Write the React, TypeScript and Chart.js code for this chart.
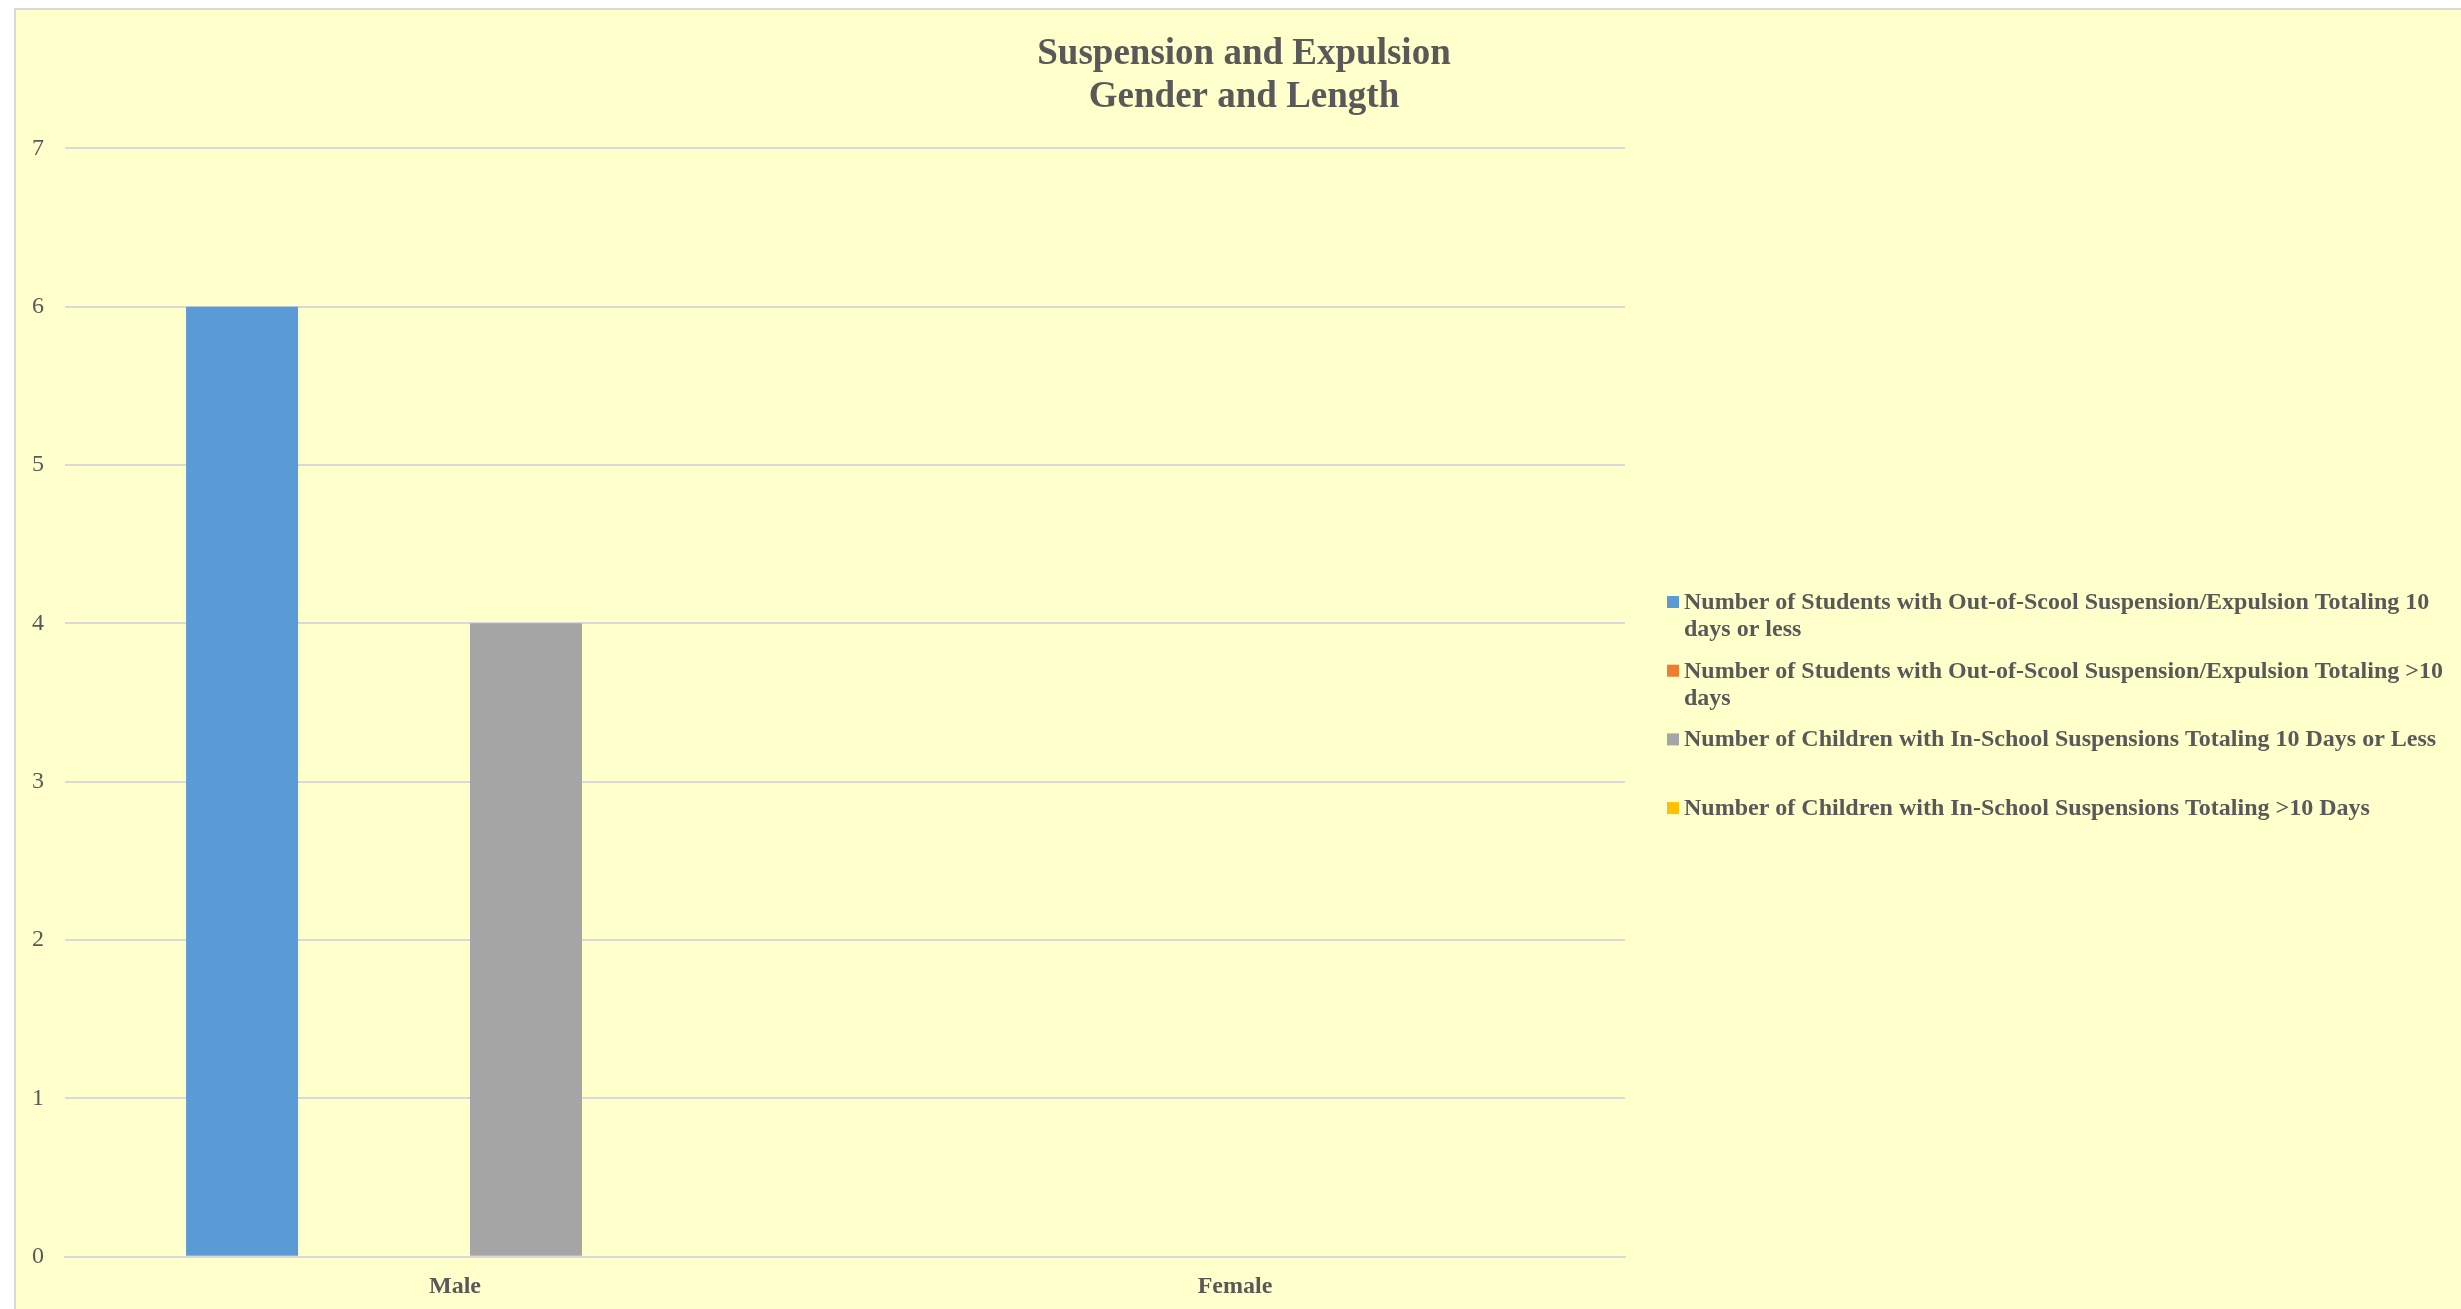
import React, { useEffect, useRef } from "react";
import { Chart, registerables } from "chart.js";

Chart.register(...registerables);

// ---- data ----
const categories = ["Male", "Female"];
const seriesNames = [
  "Number of Students with Out-of-Scool Suspension/Expulsion Totaling 10 days or less",
  "Number of Students with Out-of-Scool Suspension/Expulsion Totaling >10 days",
  "Number of Children with In-School Suspensions Totaling 10 Days or Less",
  "Number of Children with In-School Suspensions Totaling >10 Days",
];
const outOfSchool10OrLess = [6, 0];
const outOfSchoolOver10 = [0, 0];
const inSchool10OrLess = [4, 0];
const inSchoolOver10 = [0, 0];
const seriesColors = ["#5B9BD5", "#ED7D31", "#A5A5A5", "#FFC000"];
const titleLines = ["Suspension and Expulsion", "Gender and Length"];
const yMin = 0;
const yMax = 7;
const yStep = 1;

// ---- style ----
const FONT = "'Liberation Serif', 'Times New Roman', serif";
const TEXT = "#595959";
const GRID = "#D9D9D9";
const BG = "#FFFFCC";
const CW = 2445;
const CH = 1299;

const TITLE_X = 1228;
const TITLE_Y0 = 44.5;
const TITLE_LINE = 43;

const LEGEND_X = 1651;
const LEGEND_BASE0 = 599;
const LEGEND_STEP = 68.7;
const LEGEND_LINE = 27;
const LEGEND_MAX_W = 775;

function wrapText(ctx: CanvasRenderingContext2D, text: string, maxW: number): string[] {
  const words = text.split(" ");
  const lines: string[] = [];
  let cur = "";
  for (const w of words) {
    const test = cur ? cur + " " + w : w;
    if (ctx.measureText(test).width > maxW && cur) {
      lines.push(cur);
      cur = w;
    } else {
      cur = test;
    }
  }
  if (cur) lines.push(cur);
  return lines;
}

const titleAndLegend = {
  id: "titleAndLegend",
  afterDraw(chart: any) {
    const ctx: CanvasRenderingContext2D = chart.ctx;
    ctx.save();
    // title
    ctx.font = `bold 37px ${FONT}`;
    ctx.fillStyle = TEXT;
    ctx.textAlign = "center";
    ctx.textBaseline = "middle";
    titleLines.forEach((t, i) => ctx.fillText(t, TITLE_X, TITLE_Y0 + i * TITLE_LINE));
    // legend
    ctx.font = `bold 24px ${FONT}`;
    ctx.textBaseline = "alphabetic";
    ctx.textAlign = "left";
    chart.data.datasets.forEach((ds: any, i: number) => {
      const base = LEGEND_BASE0 + i * LEGEND_STEP;
      ctx.fillStyle = ds.backgroundColor;
      ctx.fillRect(LEGEND_X, base - 13, 12, 12);
      ctx.fillStyle = TEXT;
      const lines = wrapText(ctx, ds.label, LEGEND_MAX_W);
      lines.forEach((ln, j) => ctx.fillText(ln, LEGEND_X + 17, base + j * LEGEND_LINE));
    });
    ctx.restore();
  },
};

export default function App() {
  const ref = useRef<HTMLCanvasElement | null>(null);

  useEffect(() => {
    if (!ref.current) return;
    const seriesValues = [outOfSchool10OrLess, outOfSchoolOver10, inSchool10OrLess, inSchoolOver10];
    const chart = new Chart(ref.current, {
      type: "bar",
      data: {
        labels: categories,
        datasets: seriesNames.map((name, i) => ({
          label: name,
          data: seriesValues[i],
          backgroundColor: seriesColors[i],
          borderWidth: 0,
          categoryPercentage: 0.728,
          barPercentage: 0.789,
        })),
      },
      options: {
        responsive: false,
        animation: false,
        layout: { padding: { left: 0, right: 836, top: 138.3, bottom: 0 } },
        plugins: {
          legend: { display: false },
          tooltip: { enabled: false },
          title: { display: false },
        },
        scales: {
          x: {
            grid: { display: false, drawTicks: false },
            border: { display: true, color: GRID, width: 2 },
            ticks: {
              color: TEXT,
              font: { family: FONT, size: 24, weight: "bold" },
              padding: 15.5,
            },
            afterFit: (scale: any) => {
              scale.height = 52.3;
            },
          },
          y: {
            min: yMin,
            max: yMax,
            grid: { color: GRID, lineWidth: 2, drawTicks: false },
            border: { display: false },
            ticks: {
              stepSize: yStep,
              color: TEXT,
              font: { family: FONT, size: 24 },
              padding: 21,
            },
            afterFit: (scale: any) => {
              scale.width = 49;
            },
          },
        },
      },
      plugins: [titleAndLegend],
    });
    return () => chart.destroy();
  }, []);

  return (
    <div
      style={{
        position: "absolute",
        left: 14,
        top: 8,
        width: 2447,
        height: 1301,
        boxSizing: "border-box",
        borderLeft: `2px solid ${GRID}`,
        borderTop: `2px solid ${GRID}`,
        background: BG,
        overflow: "hidden",
      }}
    >
      <canvas ref={ref} width={CW} height={CH} style={{ display: "block", width: CW, height: CH }} />
    </div>
  );
}
